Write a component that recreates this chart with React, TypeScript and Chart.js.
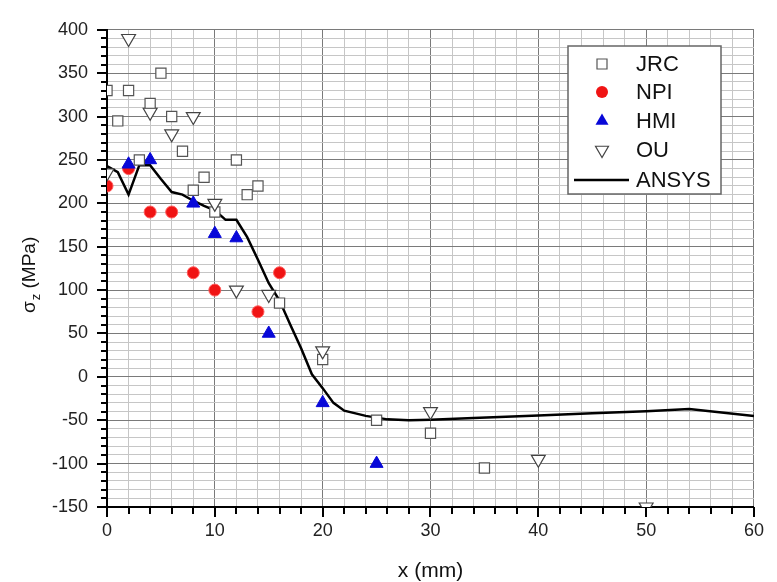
import React, { useEffect, useRef } from "react";
import { Chart, registerables } from "chart.js";

Chart.register(...registerables);

// ---- data ----
const jrcX = [0, 1, 2, 3, 4, 5, 6, 7, 8, 9, 10, 12, 13, 14, 16, 20, 25, 30, 35];
const jrcY = [330, 295, 330, 250, 315, 350, 300, 260, 215, 230, 190, 250, 210, 220, 85, 20, -50, -65, -105];

const npiX = [0, 2, 4, 6, 8, 10, 14, 16];
const npiY = [220, 240, 190, 190, 120, 100, 75, 120];

const hmiX = [2, 4, 8, 10, 12, 15, 20, 25];
const hmiY = [245, 250, 200, 165, 160, 50, -30, -100];

const ouX = [0, 2, 4, 6, 8, 10, 12, 15, 20, 30, 40, 50];
const ouY = [235, 390, 305, 280, 300, 200, 100, 95, 30, -40, -95, -150];

const ansysX = [0, 1, 2, 3, 4, 5, 6, 7, 8, 9, 10, 11, 12, 13, 14, 15, 16, 17, 18, 19, 20, 21, 22, 24, 26, 28, 30, 34, 40, 45, 50, 54, 60];
const ansysY = [243, 236, 210, 244, 244, 228, 213, 210, 203, 197, 192, 181, 181, 161, 135, 108, 88, 60, 33, 3, -13, -30, -39, -45, -49, -50, -49.5, -47.5, -44.5, -42, -39.5, -37, -45];

const xTickValues = [0, 2, 4, 6, 8, 10, 12, 14, 16, 18, 20, 22, 24, 26, 28, 30, 32, 34, 36, 38, 40, 42, 44, 46, 48, 50, 52, 54, 56, 58, 60];
const yTickValues = [-150, -140, -130, -120, -110, -100, -90, -80, -70, -60, -50, -40, -30, -20, -10, 0, 10, 20, 30, 40, 50, 60, 70, 80, 90, 100, 110, 120, 130, 140, 150, 160, 170, 180, 190, 200, 210, 220, 230, 240, 250, 260, 270, 280, 290, 300, 310, 320, 330, 340, 350, 360, 370, 380, 390, 400];

const seriesNames = ["JRC", "NPI", "HMI", "OU", "ANSYS"];

const FONT = '"Liberation Sans", Arial, Helvetica, sans-serif';
const MAJOR_GRID = "#7a7a7a";
const MINOR_GRID = "#c6c6c6";
const RED = "#f01414";
const BLUE = "#0808d8";

const toPts = (xs: number[], ys: number[]) => xs.map((x, i) => ({ x, y: ys[i] }));

function drawMarker(ctx: CanvasRenderingContext2D, kind: string, x: number, y: number) {
  ctx.save();
  ctx.beginPath();
  if (kind === "JRC") {
    ctx.rect(x - 5, y - 5, 10, 10);
    ctx.fillStyle = "#fff";
    ctx.fill();
    ctx.strokeStyle = "#555";
    ctx.lineWidth = 1.2;
    ctx.stroke();
  } else if (kind === "NPI") {
    ctx.arc(x, y, 6, 0, Math.PI * 2);
    ctx.fillStyle = RED;
    ctx.fill();
  } else if (kind === "HMI") {
    const r = 7.5;
    for (let k = 0; k < 3; k++) {
      const a = -Math.PI / 2 + (k * 2 * Math.PI) / 3;
      const px = x + Math.cos(a) * r;
      const py = y + Math.sin(a) * r;
      if (k === 0) ctx.moveTo(px, py);
      else ctx.lineTo(px, py);
    }
    ctx.closePath();
    ctx.fillStyle = BLUE;
    ctx.fill();
  } else if (kind === "OU") {
    const r = 7.5;
    for (let k = 0; k < 3; k++) {
      const a = Math.PI / 2 + (k * 2 * Math.PI) / 3;
      const px = x + Math.cos(a) * r;
      const py = y + Math.sin(a) * r;
      if (k === 0) ctx.moveTo(px, py);
      else ctx.lineTo(px, py);
    }
    ctx.closePath();
    ctx.fillStyle = "#fff";
    ctx.fill();
    ctx.strokeStyle = "#444";
    ctx.lineWidth = 1.2;
    ctx.stroke();
  } else {
    ctx.moveTo(x - 28, y);
    ctx.lineTo(x + 27, y);
    ctx.strokeStyle = "#000";
    ctx.lineWidth = 2.5;
    ctx.stroke();
  }
  ctx.restore();
}

const decorPlugin = {
  id: "decor",
  afterDraw(chart: any) {
    const ctx: CanvasRenderingContext2D = chart.ctx;
    const xs = chart.scales.x;
    const ys = chart.scales.y;
    const area = chart.chartArea;
    ctx.save();
    // tick marks
    ctx.strokeStyle = "#000";
    ctx.lineWidth = 2;
    ctx.beginPath();
    yTickValues.forEach((v) => {
      const py = Math.round(ys.getPixelForValue(v));
      const len = v % 50 === 0 ? 10 : 6;
      ctx.moveTo(area.left - len, py);
      ctx.lineTo(area.left, py);
    });
    xTickValues.forEach((v) => {
      const px = Math.round(xs.getPixelForValue(v));
      const len = v % 10 === 0 ? 10 : 7;
      ctx.moveTo(px, area.bottom);
      ctx.lineTo(px, area.bottom + len);
    });
    ctx.stroke();

    // x title
    ctx.fillStyle = "#111";
    ctx.font = `21px ${FONT}`;
    ctx.textAlign = "center";
    ctx.textBaseline = "middle";
    ctx.fillText("x (mm)", (area.left + area.right) / 2, 571);

    // y title with subscript
    ctx.save();
    ctx.translate(35, 313);
    ctx.rotate(-Math.PI / 2);
    ctx.textAlign = "left";
    ctx.textBaseline = "alphabetic";
    ctx.font = `19px ${FONT}`;
    ctx.fillText("σ", 0, 0);
    let w = ctx.measureText("σ").width;
    ctx.font = `13px ${FONT}`;
    ctx.fillText("z", w + 1, 5);
    w += 1 + ctx.measureText("z").width;
    ctx.font = `19px ${FONT}`;
    ctx.fillText(" (MPa)", w, 0);
    ctx.restore();

    // legend
    const bx = 568, by = 46, bw = 153, bh = 148;
    ctx.fillStyle = "#fff";
    ctx.fillRect(bx, by, bw, bh);
    ctx.strokeStyle = "#666";
    ctx.lineWidth = 1.5;
    ctx.strokeRect(bx, by, bw, bh);
    const rowsY = [64, 92, 121, 150, 180];
    ctx.font = `22px ${FONT}`;
    ctx.textAlign = "left";
    ctx.textBaseline = "middle";
    seriesNames.forEach((name, i) => {
      drawMarker(ctx, name, 602, rowsY[i]);
      ctx.fillStyle = "#111";
      ctx.fillText(name, 636, rowsY[i] + 1);
    });
    ctx.restore();
  },
};

export default function App() {
  const ref = useRef<HTMLCanvasElement | null>(null);

  useEffect(() => {
    if (!ref.current) return;
    const chart = new Chart(ref.current, {
      type: "scatter",
      data: {
        datasets: [
          {
            label: "JRC",
            data: toPts(jrcX, jrcY),
            pointStyle: "rect",
            pointRadius: 7.2,
            backgroundColor: "#fff",
            borderColor: "#555",
            pointBorderWidth: 1.2,
            clip: 0,
            order: 2,
          } as any,
          {
            label: "NPI",
            data: toPts(npiX, npiY),
            pointStyle: "circle",
            pointRadius: 6,
            backgroundColor: RED,
            borderColor: "#ff5a5a",
            pointBorderWidth: 1,
            clip: 0,
            order: 4,
          },
          {
            label: "HMI",
            data: toPts(hmiX, hmiY),
            pointStyle: "triangle",
            pointRadius: 7.5,
            backgroundColor: BLUE,
            borderColor: BLUE,
            pointBorderWidth: 1,
            clip: 0,
            order: 3,
          },
          {
            label: "OU",
            data: toPts(ouX, ouY),
            pointStyle: "triangle",
            rotation: 180,
            pointRadius: 8,
            backgroundColor: "#fff",
            borderColor: "#444",
            pointBorderWidth: 1.2,
            clip: 0,
            order: 1,
          },
          {
            label: "ANSYS",
            data: toPts(ansysX, ansysY),
            showLine: true,
            borderColor: "#000",
            borderWidth: 2.5,
            pointRadius: 0,
            tension: 0,
            clip: 0,
            order: 5,
          },
        ] as any,
      },
      options: {
        animation: false,
        responsive: false,
        devicePixelRatio: 1,
        layout: { padding: { left: 0, top: 18, right: 12, bottom: 0 } },
        plugins: {
          legend: { display: false },
          tooltip: { enabled: false },
          title: { display: false },
        },
        scales: {
          x: {
            type: "linear",
            min: 0,
            max: 60,
            afterBuildTicks: (s: any) => {
              s.ticks = xTickValues.map((v) => ({ value: v }));
            },
            afterFit: (s: any) => {
              s.height = 75;
            },
            ticks: {
              autoSkip: false,
              maxRotation: 0,
              padding: 13,
              color: "#222",
              font: { family: FONT, size: 18 },
              callback: (v: any) => (Number(v) % 10 === 0 ? String(v) : ""),
            },
            grid: {
              drawTicks: false,
              lineWidth: 1,
              color: (c: any) => (c.tick && c.tick.value % 10 === 0 ? MAJOR_GRID : MINOR_GRID),
            },
            border: { display: true, color: "#000", width: 2 },
          },
          y: {
            type: "linear",
            min: -150,
            max: 400,
            afterBuildTicks: (s: any) => {
              s.ticks = yTickValues.map((v) => ({ value: v }));
            },
            afterFit: (s: any) => {
              s.width = 107;
            },
            ticks: {
              autoSkip: false,
              padding: 19,
              color: "#222",
              font: { family: FONT, size: 18 },
              callback: (v: any) => (Number(v) % 50 === 0 ? String(v) : ""),
            },
            grid: {
              drawTicks: false,
              lineWidth: 1,
              color: (c: any) => (c.tick && c.tick.value % 50 === 0 ? MAJOR_GRID : MINOR_GRID),
            },
            border: { display: true, color: "#000", width: 2 },
          },
        },
      } as any,
      plugins: [decorPlugin],
    });
    return () => chart.destroy();
  }, []);

  return (
    <div style={{ position: "fixed", left: 0, top: 0, width: 777, height: 582, background: "#fff" }}>
      <canvas ref={ref} width={777} height={582} style={{ display: "block", width: 777, height: 582 }} />
    </div>
  );
}
